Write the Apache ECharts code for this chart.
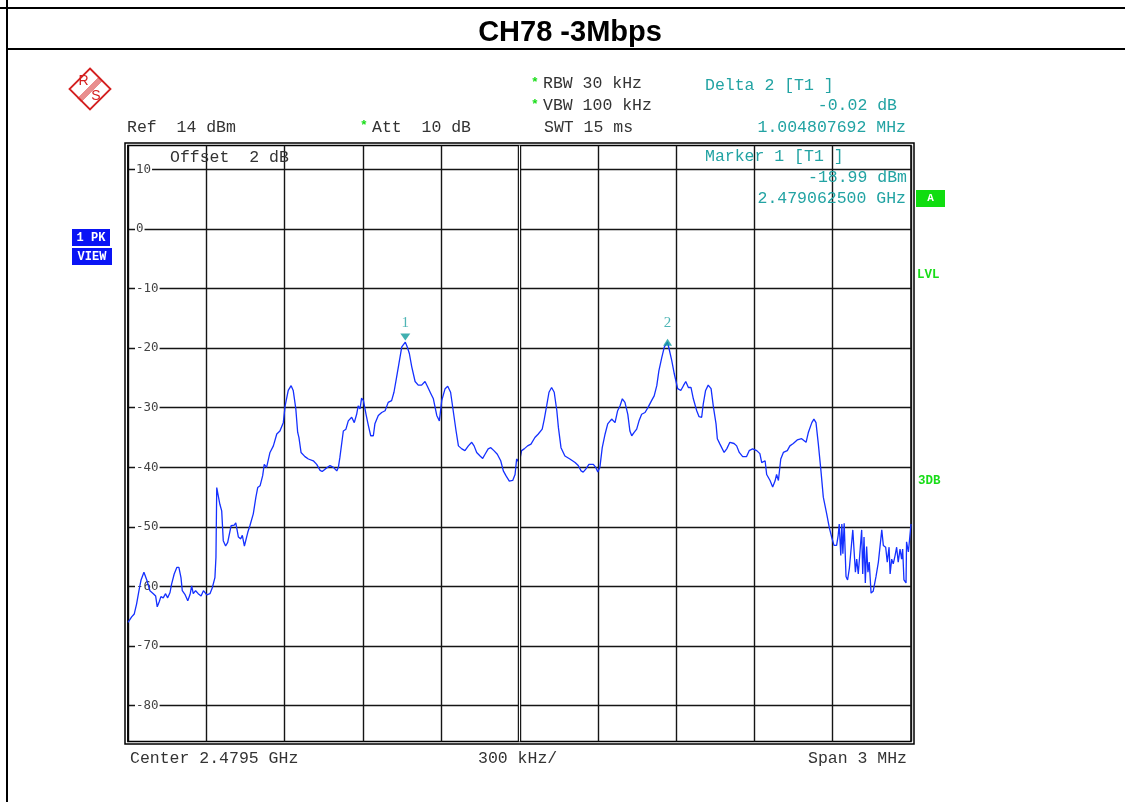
<!DOCTYPE html>
<html><head><meta charset="utf-8">
<script src="https://cdn.jsdelivr.net/npm/echarts@6/dist/echarts.min.js"></script>
<style>html,body{margin:0;padding:0;background:#fff}#c{width:1125px;height:802px}</style>
</head><body><div id="c"></div>
<script>
// ---- data ----
const chartTitle = 'CH78 -3Mbps';
// frequency offset from start (2.478 GHz), kHz
const freqKHz = [
 0,14,24,33,42,50,61,72,84,97,106,112,120,126,135,144,152,161,167,177,
 187,195,203,208,218,229,238,244,250,259,269,280,289,302,314,323,333,337,340,346,
 352,359,365,374,382,388,395,407,413,423,432,438,446,452,459,467,480,490,497,506,
 516,522,531,544,557,570,582,595,602,614,625,633,643,650,655,663,678,691,710,723,
 736,744,755,
 774,787,800,806,812,825,835,844,857,867,876,882,889,895,902,912,921,930,940,946,
 959,972,985,997,1010,1019,1029,1038,1049,1062.5,1070,1078,1087,1100,1112,1125,1138,1147,1160,1170,
 1183,1193,1202,1215,1225,1236,1246,1257,1266,1279,1291,1304,1317,1326,1336,1349,1359,1368,1380,1390,
 1402,1415,1428,1438,1448,1461,1474,1483,1489,1499,
 1508,1518,1531,1544,1559,1572,1587,1595,1604,1613,1623,1633,1643,1649,1659,1674,1693,1713,1725,1736,
 1744,1754,1766,1783,1792,1800,1808,1817,1828,1838,1853,1866,1876,1885,1894,1904,1915,1923,1930,1940,
 1949,1958,1968,1981,1993,2006,2016,2026,2034,2045,2055,2067.3,2073,2083,2093,2106,2118,2128,2137,2147,
 2157,2166,2179,2188,2198,2204,2213,2223,2234,2243,
 2253,2258,2268,2284,2294,2306,2322,2332,2342,2355,2370,2380,2393,2409,2421,2428,2441,2447,2460,2470,
 2479,2485,2492,2498,2501,2511,2526,2536,2549,2564,2581,2598,2607,2620,2628,2636,2645,2655,2664,2677,
 2687,2696,2705,2715,2721,2725,2731,2735,2739,2744,2751,2757,2764,2769,2777,2782,2787,2792,2798,2805,
 2811,2815,2820,2825,2830,2835,2840,2847,2855,2866,2875,2888,2894,2903,2909,2916,2920,2926,2932,2939,
 2945,2951,2958,2964,2968,2973,2981,2983,2990,2994,3000
];
// trace level, dBm
const levelDbm = [
 -66.0,-65.1,-64.6,-62.9,-60.7,-58.9,-57.6,-58.9,-60.7,-61.2,-61.6,-63.4,-62.5,-61.7,-61.9,-61.2,-61.9,-61.0,-59.6,-57.9,
 -56.8,-56.8,-58.5,-60.7,-61.3,-62.4,-61.3,-59.9,-61.2,-60.7,-61.2,-61.6,-60.7,-61.4,-61.2,-60.2,-58.5,-55.1,-43.4,-43.4,
 -46.2,-47.3,-52.3,-53.2,-52.6,-52.9,-49.8,-49.7,-49.3,-51.7,-52.0,-51.4,-53.2,-53.5,-50.9,-49.8,-47.8,-45.0,-43.4,-43.1,
 -41.4,-39.5,-40.0,-37.5,-36.4,-34.4,-33.9,-32.5,-29.7,-27.1,-26.3,-27.1,-30.2,-34.1,-35.0,-37.5,-38.2,-38.6,-38.9,-39.5,
 -40.5,-40.7,-40.3,
 -39.7,-40.0,-40.6,-40.0,-38.3,-33.9,-33.6,-32.2,-31.6,-32.5,-31.1,-29.7,-30.2,-28.4,-28.8,-31.1,-33.0,-34.7,-34.7,-32.7,
 -31.3,-30.8,-30.5,-29.1,-28.8,-27.4,-24.9,-22.6,-19.8,-18.99,-19.8,-20.9,-23.1,-25.6,-26.2,-26.2,-25.6,-26.4,-27.6,-28.5,
 -31.3,-32.2,-28.8,-26.8,-26.4,-27.4,-30.5,-33.9,-36.4,-36.9,-37.2,-36.4,-35.8,-36.4,-37.5,-38.1,-38.5,-37.8,-36.9,-36.7,
 -37.2,-37.8,-38.9,-40.6,-41.4,-42.3,-42.2,-41.2,-38.6,-39.2,
 -37.2,-36.9,-36.4,-36.1,-35.0,-34.4,-33.6,-31.9,-29.7,-27.4,-26.6,-27.4,-30.5,-33.3,-36.7,-38.1,-38.6,-39.2,-39.7,-40.6,
 -40.8,-40.3,-39.5,-39.5,-40.0,-40.8,-40.0,-36.7,-34.4,-32.7,-31.9,-32.5,-30.5,-29.7,-28.5,-29.1,-31.1,-33.9,-34.7,-34.1,
 -33.6,-32.2,-31.1,-30.8,-29.9,-28.8,-28.0,-26.3,-23.8,-21.6,-19.8,-19.01,-20.1,-22.0,-24.3,-26.8,-27.1,-26.3,-25.6,-26.6,
 -26.6,-28.5,-30.5,-31.5,-31.6,-29.4,-27.1,-26.2,-26.8,-29.9,
 -32.7,-35.2,-36.1,-37.5,-36.9,-35.8,-36.0,-36.4,-37.5,-38.2,-38.2,-37.2,-36.9,-37.2,-37.7,-39.2,-38.9,-41.2,-42.2,-43.3,
 -42.3,-41.2,-42.2,-42.0,-38.6,-37.5,-37.2,-36.4,-36.0,-35.4,-35.2,-35.8,-34.1,-32.5,-31.9,-32.5,-36.1,-40.6,-45.0,-47.8,
 -50.1,-51.7,-53.1,-53.1,-51.4,-49.5,-54.8,-49.5,-54.5,-49.4,-58.3,-58.9,-56.9,-57.2,-50.5,-50.8,-57.6,-55.4,-57.9,-53.9,
 -50.5,-57.9,-51.7,-59.4,-53.3,-57.6,-55.9,-61.1,-60.8,-58.3,-55.9,-50.5,-53.1,-53.4,-55.9,-53.4,-57.9,-55.4,-56.2,-54.8,
 -53.4,-55.9,-53.7,-55.4,-53.7,-58.9,-59.4,-52.5,-54.2,-54.2,-49.5
];
const yTickValues = [10, 0, -10, -20, -30, -40, -50, -60, -70, -80];
const yMin = -86, yMax = 14;
const xMin = 0, xMax = 3000, xStep = 300, xCenter = 1500;
const markerNames = ['1', '2'];
const markerFreqKHz = [1062.5, 2067.3];
const markerLevels = [-18.99, -19.01];

const headerLeft = ['Ref  14 dBm', 'Att  10 dB', 'Offset  2 dB'];
const headerMid = ['RBW 30 kHz', 'VBW 100 kHz', 'SWT 15 ms'];
const deltaText = ['Delta 2 [T1 ]', '-0.02 dB', '1.004807692 MHz'];
const markerText = ['Marker 1 [T1 ]', '-18.99 dBm', '2.479062500 GHz'];
const footerText = ['Center 2.4795 GHz', '300 kHz/', 'Span 3 MHz'];

// ---- build ----
const traceData = freqKHz.map((f, i) => [f, levelDbm[i]]);
const MONO = '16.5px "Liberation Mono", "Courier New", monospace';
const TXT = '#333';
const TEAL = '#22a3a3';
const GREEN = '#18dd18';
const RED = '#d42020';

function txt(x, y, s, opt) {
  opt = opt || {};
  return { type: 'text', x: x, y: y, z: 100, style: {
    text: s, font: opt.font || MONO, fill: opt.fill || TXT,
    textAlign: opt.align || 'left', align: opt.align || 'left',
    textVerticalAlign: 'middle', verticalAlign: 'middle' } };
}
function stripe(o) {
  return { type: 'line', z: 60, shape: { x1: 101 + o, y1: 78.5 + o, x2: 79.5 + o, y2: 100 + o }, style: { stroke: RED, lineWidth: 1 } };
}

const graphics = [
  { type: 'line', shape: { x1: 0, y1: 8, x2: 1125, y2: 8 }, style: { stroke: '#000', lineWidth: 2 } },
  { type: 'line', shape: { x1: 7, y1: 49, x2: 1125, y2: 49 }, style: { stroke: '#000', lineWidth: 2 } },
  { type: 'line', shape: { x1: 7, y1: 0, x2: 7, y2: 802 }, style: { stroke: '#000', lineWidth: 2 } },
  txt(570, 33, chartTitle, { font: 'bold 29px "Liberation Sans", Arial, sans-serif', fill: '#000', align: 'center' }),
  // outer frame
  { type: 'rect', shape: { x: 125, y: 143, width: 789, height: 601 }, style: { stroke: '#000', fill: null, lineWidth: 1.5 }, z: 50 },
  // R&S logo
  { type: 'polygon', shape: { points: [[90, 68.5], [110.5, 89], [90, 109.5], [69.5, 89]] }, style: { stroke: RED, fill: null, lineWidth: 1.8 } },
  stripe(-1.5), stripe(-0.5), stripe(0.5), stripe(1.5),
  txt(83.5, 81.5, 'R', { font: '14px "Liberation Sans", sans-serif', fill: RED, align: 'center' }),
  txt(96, 96.5, 'S', { font: '14px "Liberation Sans", sans-serif', fill: RED, align: 'center' }),
  // header texts
  txt(127, 128, headerLeft[0]),
  txt(360, 126, '*', { font: 'bold 13px "Liberation Mono", monospace', fill: GREEN }),
  txt(372, 128, headerLeft[1]),
  txt(170, 158, headerLeft[2]),
  txt(531, 83, '*', { font: 'bold 13px "Liberation Mono", monospace', fill: GREEN }),
  txt(543, 84, headerMid[0]),
  txt(531, 105, '*', { font: 'bold 13px "Liberation Mono", monospace', fill: GREEN }),
  txt(543, 106, headerMid[1]),
  txt(544, 128, headerMid[2]),
  txt(705, 86, deltaText[0], { fill: TEAL }),
  txt(897, 106, deltaText[1], { fill: TEAL, align: 'right' }),
  txt(906, 128, deltaText[2], { fill: TEAL, align: 'right' }),
  txt(705, 157, markerText[0], { fill: TEAL }),
  txt(907, 178, markerText[1], { fill: TEAL, align: 'right' }),
  txt(906, 199, markerText[2], { fill: TEAL, align: 'right' }),
  txt(130, 759, footerText[0]),
  txt(478, 759, footerText[1]),
  txt(907, 759, footerText[2], { align: 'right' }),
  // side boxes
  { type: 'rect', shape: { x: 72, y: 229, width: 38, height: 17 }, style: { fill: '#0a14f5' } },
  txt(91, 237.5, '1 PK', { font: 'bold 12px "Liberation Mono", monospace', fill: '#fff', align: 'center' }),
  { type: 'rect', shape: { x: 72, y: 248, width: 40, height: 17 }, style: { fill: '#0a14f5' } },
  txt(92, 256.5, 'VIEW', { font: 'bold 12px "Liberation Mono", monospace', fill: '#fff', align: 'center' }),
  { type: 'rect', shape: { x: 916, y: 190, width: 29, height: 17 }, style: { fill: '#10dd10' } },
  txt(930.5, 198.5, 'A', { font: 'bold 11px "Liberation Mono", monospace', fill: '#fff', align: 'center' }),
  txt(917, 274.5, 'LVL', { font: 'bold 12.5px "Liberation Mono", monospace', fill: GREEN }),
  txt(918, 481, '3DB', { font: 'bold 12.5px "Liberation Mono", monospace', fill: GREEN })
];

const chart = echarts.init(document.getElementById('c'), null, { renderer: 'canvas' });
chart.setOption({
  animation: false,
  backgroundColor: '#fff',
  grid: { left: 128, top: 145.5, width: 783, height: 596, show: true, borderColor: '#000', borderWidth: 1.5, backgroundColor: 'transparent' },
  xAxis: {
    type: 'value', min: xMin, max: xMax, interval: xStep,
    axisLine: { show: false }, axisTick: { show: false }, axisLabel: { show: false },
    splitLine: { show: true, lineStyle: { color: '#151515', width: 1.4 } }
  },
  yAxis: {
    type: 'value', min: yMin, max: yMax,
    axisLine: { show: true, lineStyle: { color: '#000', width: 1.5 } },
    axisTick: { show: false, customValues: yTickValues },
    axisLabel: {
      customValues: yTickValues, inside: true, margin: 7,
      color: '#444', fontFamily: '"DejaVu Sans Mono", monospace', fontSize: 12.5,
      backgroundColor: '#fff', padding: [0, 1]
    },
    splitLine: { show: true, lineStyle: { color: '#151515', width: 1.4 } }
  },
  graphic: graphics,
  series: [
    {
      type: 'scatter', data: [], z: 1, silent: true,
      markLine: {
        silent: true, symbol: 'none', label: { show: false },
        data: [
          { xAxis: xCenter, lineStyle: { color: '#000', width: 3.4, type: 'solid' } },
          { xAxis: xCenter, lineStyle: { color: '#fff', width: 1.2, type: 'solid' } }
        ]
      }
    },
    {
      type: 'line', data: traceData, showSymbol: false, z: 3,
      lineStyle: { color: '#1430ff', width: 1.3 }, clip: true
    },
    {
      type: 'scatter', z: 4, silent: true,
      data: [[markerFreqKHz[0], markerLevels[0]]],
      symbol: 'triangle', symbolRotate: 180, symbolSize: [10, 7], symbolOffset: [0, -5],
      itemStyle: { color: '#129c9c' },
      label: { show: true, position: 'top', distance: 3, formatter: markerNames[0], color: TEAL, fontFamily: '"Liberation Serif", serif', fontSize: 15 }
    },
    {
      type: 'scatter', z: 4, silent: true,
      data: [[markerFreqKHz[1], markerLevels[1]]],
      symbol: 'triangle', symbolSize: [9, 7], symbolOffset: [0, 0],
      itemStyle: { color: '#129c9c' },
      label: { show: true, position: 'top', distance: 8, formatter: markerNames[1], color: TEAL, fontFamily: '"Liberation Serif", serif', fontSize: 15 }
    }
  ]
});
</script></body></html>
